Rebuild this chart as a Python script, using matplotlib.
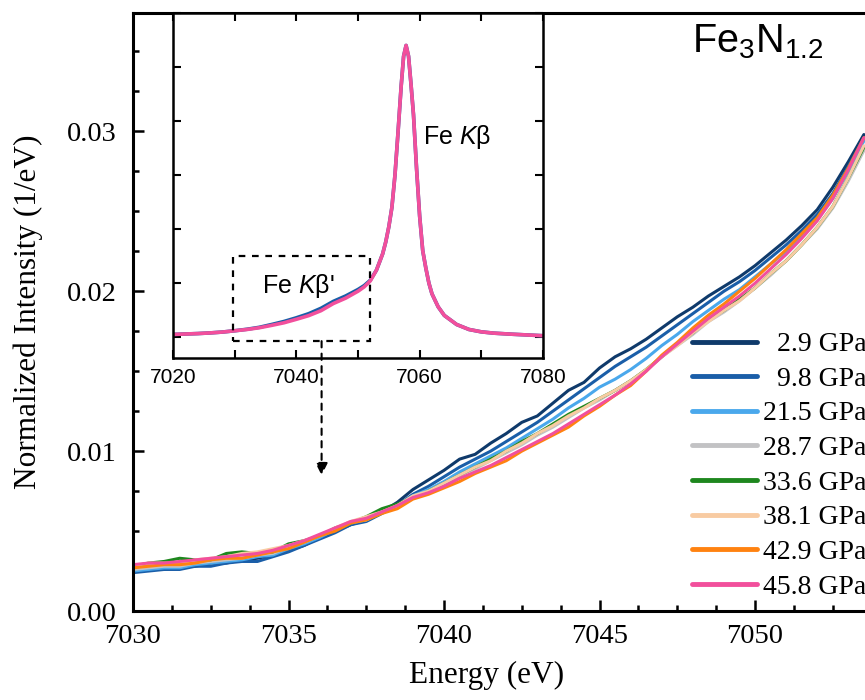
import matplotlib
matplotlib.use('Agg')
import matplotlib.pyplot as plt
from matplotlib.patches import Rectangle
from matplotlib.ticker import MultipleLocator

plt.rcParams['font.family'] = ['Liberation Serif', 'DejaVu Serif']
plt.rcParams['mathtext.fontset'] = 'custom'
plt.rcParams['mathtext.rm'] = 'Liberation Sans'
plt.rcParams['mathtext.it'] = 'Liberation Sans:italic'

# main panel: Fe K-beta' region, normalized intensity (1/eV)
energy = [7030.0, 7030.5, 7031.0, 7031.5, 7032.0, 7032.5, 7033.0, 7033.5, 7034.0, 7034.5,
          7035.0, 7035.5, 7036.0, 7036.5, 7037.0, 7037.5, 7038.0, 7038.5, 7039.0, 7039.5,
          7040.0, 7040.5, 7041.0, 7041.5, 7042.0, 7042.5, 7043.0, 7043.5, 7044.0, 7044.5,
          7045.0, 7045.5, 7046.0, 7046.5, 7047.0, 7047.5, 7048.0, 7048.5, 7049.0, 7049.5,
          7050.0, 7050.5, 7051.0, 7051.5, 7052.0, 7052.5, 7053.0, 7053.5]

p_2_9 = [0.0025, 0.0026, 0.0026, 0.0028, 0.0028, 0.0030, 0.0030, 0.0032, 0.0033, 0.0035,
         0.0038, 0.0041, 0.0046, 0.0050, 0.0054, 0.0057, 0.0062, 0.0068, 0.0076, 0.0082,
         0.0088, 0.0095, 0.0098, 0.0105, 0.0111, 0.0118, 0.0122, 0.0130, 0.0138, 0.0143,
         0.0152, 0.0159, 0.0164, 0.0170, 0.0177, 0.0184, 0.0190, 0.0197, 0.0203, 0.0209,
         0.0216, 0.0224, 0.0232, 0.0241, 0.0251, 0.0265, 0.0281, 0.0298]
p_9_8 = [0.0024, 0.0025, 0.0026, 0.0026, 0.0028, 0.0028, 0.0030, 0.0031, 0.0031, 0.0034,
         0.0037, 0.0041, 0.0045, 0.0049, 0.0054, 0.0056, 0.0061, 0.0066, 0.0073, 0.0078,
         0.0084, 0.0090, 0.0095, 0.0100, 0.0106, 0.0112, 0.0118, 0.0125, 0.0132, 0.0139,
         0.0146, 0.0153, 0.0159, 0.0165, 0.0172, 0.0179, 0.0186, 0.0193, 0.0200, 0.0206,
         0.0213, 0.0221, 0.0229, 0.0238, 0.0248, 0.0261, 0.0278, 0.0296]
p_21_5 = [0.0025, 0.0026, 0.0027, 0.0027, 0.0029, 0.0030, 0.0031, 0.0032, 0.0034, 0.0035,
          0.0039, 0.0042, 0.0046, 0.0051, 0.0055, 0.0057, 0.0062, 0.0066, 0.0072, 0.0076,
          0.0081, 0.0087, 0.0092, 0.0097, 0.0102, 0.0108, 0.0114, 0.0120, 0.0127, 0.0133,
          0.0140, 0.0145, 0.0151, 0.0158, 0.0166, 0.0173, 0.0181, 0.0188, 0.0195, 0.0201,
          0.0209, 0.0217, 0.0225, 0.0235, 0.0245, 0.0258, 0.0275, 0.0294]
p_28_7 = [0.0026, 0.0027, 0.0028, 0.0028, 0.0030, 0.0031, 0.0032, 0.0033, 0.0035, 0.0036,
          0.0040, 0.0043, 0.0047, 0.0051, 0.0056, 0.0057, 0.0062, 0.0066, 0.0071, 0.0075,
          0.0079, 0.0085, 0.0089, 0.0094, 0.0099, 0.0104, 0.0110, 0.0115, 0.0121, 0.0127,
          0.0132, 0.0138, 0.0144, 0.0151, 0.0159, 0.0166, 0.0173, 0.0181, 0.0187, 0.0194,
          0.0202, 0.0210, 0.0219, 0.0229, 0.0239, 0.0252, 0.0269, 0.0288]
p_33_6 = [0.0028, 0.0030, 0.0031, 0.0033, 0.0032, 0.0032, 0.0036, 0.0037, 0.0036, 0.0037,
          0.0042, 0.0044, 0.0047, 0.0052, 0.0055, 0.0059, 0.0064, 0.0067, 0.0071, 0.0075,
          0.0080, 0.0085, 0.0090, 0.0095, 0.0100, 0.0106, 0.0111, 0.0117, 0.0123, 0.0128,
          0.0133, 0.0138, 0.0144, 0.0151, 0.0159, 0.0167, 0.0174, 0.0182, 0.0188, 0.0195,
          0.0202, 0.0211, 0.0219, 0.0229, 0.0240, 0.0253, 0.0271, 0.0290]
p_38_1 = [0.0028, 0.0030, 0.0030, 0.0030, 0.0032, 0.0033, 0.0034, 0.0036, 0.0037, 0.0039,
          0.0041, 0.0044, 0.0047, 0.0052, 0.0056, 0.0059, 0.0062, 0.0066, 0.0072, 0.0075,
          0.0080, 0.0085, 0.0090, 0.0094, 0.0100, 0.0105, 0.0111, 0.0116, 0.0122, 0.0127,
          0.0133, 0.0138, 0.0144, 0.0151, 0.0159, 0.0166, 0.0174, 0.0181, 0.0188, 0.0194,
          0.0202, 0.0211, 0.0219, 0.0229, 0.0240, 0.0253, 0.0271, 0.0291]
p_42_9 = [0.0027, 0.0028, 0.0029, 0.0029, 0.0030, 0.0032, 0.0033, 0.0033, 0.0035, 0.0037,
          0.0039, 0.0043, 0.0047, 0.0050, 0.0055, 0.0057, 0.0061, 0.0064, 0.0070, 0.0073,
          0.0077, 0.0081, 0.0086, 0.0090, 0.0094, 0.0100, 0.0105, 0.0110, 0.0115, 0.0122,
          0.0128, 0.0135, 0.0141, 0.0150, 0.0160, 0.0168, 0.0177, 0.0185, 0.0192, 0.0200,
          0.0208, 0.0217, 0.0226, 0.0236, 0.0246, 0.0260, 0.0277, 0.0296]
p_45_8 = [0.0029, 0.0030, 0.0030, 0.0031, 0.0032, 0.0033, 0.0034, 0.0035, 0.0036, 0.0038,
          0.0041, 0.0044, 0.0048, 0.0052, 0.0056, 0.0058, 0.0062, 0.0066, 0.0071, 0.0074,
          0.0078, 0.0083, 0.0087, 0.0091, 0.0096, 0.0101, 0.0106, 0.0111, 0.0117, 0.0123,
          0.0129, 0.0135, 0.0142, 0.0150, 0.0159, 0.0167, 0.0175, 0.0183, 0.0190, 0.0197,
          0.0205, 0.0214, 0.0223, 0.0233, 0.0244, 0.0258, 0.0276, 0.0296]

series = [p_2_9, p_9_8, p_21_5, p_28_7, p_33_6, p_38_1, p_42_9, p_45_8]
labels = ['  2.9 GPa', '  9.8 GPa', '21.5 GPa', '28.7 GPa',
          '33.6 GPa', '38.1 GPa', '42.9 GPa', '45.8 GPa']
colors = ['#0f3a6b', '#1a5ea8', '#4aa8ec', '#c2c2c4',
          '#1e871e', '#f8cba2', '#ff8210', '#f24f9c']

# inset: full Fe K-beta line
inset_energy = [7020, 7022, 7024, 7026, 7028, 7030, 7032, 7034, 7036, 7038,
                7040, 7042, 7044, 7046, 7048, 7050, 7051, 7052, 7053, 7054,
                7054.5, 7055, 7055.5, 7056, 7056.5, 7057, 7057.4, 7057.8, 7058.2, 7058.6,
                7059, 7059.5, 7060, 7060.5, 7061, 7061.5, 7062, 7063, 7064, 7066,
                7068, 7070, 7072, 7075, 7080]
inset_high = [0.0012, 0.0014, 0.0016, 0.0019, 0.0023, 0.0029, 0.0035, 0.0043, 0.0054, 0.0066,
              0.0082, 0.0099, 0.0122, 0.0155, 0.0180, 0.0212, 0.0232, 0.0260, 0.0310, 0.0385,
              0.0440, 0.0510, 0.0600, 0.0750, 0.0950, 0.1160, 0.1300, 0.1350, 0.1300, 0.1170,
              0.1030, 0.0780, 0.0560, 0.0400, 0.0320, 0.0250, 0.0200, 0.0140, 0.0100, 0.0058,
              0.0035, 0.0024, 0.0018, 0.0013, 0.0006]
inset_low = [0.0012, 0.0014, 0.0016, 0.0019, 0.0023, 0.0029, 0.0036, 0.0045, 0.0058, 0.0072,
             0.0089, 0.0108, 0.0133, 0.0165, 0.0190, 0.0220, 0.0238, 0.0263, 0.0310, 0.0385,
             0.0440, 0.0510, 0.0600, 0.0750, 0.0950, 0.1160, 0.1300, 0.1350, 0.1300, 0.1170,
             0.1030, 0.0780, 0.0560, 0.0400, 0.0320, 0.0250, 0.0200, 0.0140, 0.0100, 0.0058,
             0.0035, 0.0024, 0.0018, 0.0013, 0.0006]

fig = plt.figure(figsize=(8.65, 7.0), dpi=100)
ax = fig.add_axes([0.1538, 0.1271, 0.8485, 0.8543])

for y, lab, c in zip(series, labels, colors):
    ax.plot(energy, y, color=c, lw=2.2, label=lab, solid_capstyle='round')

ax.set_xlim(7030, 7053.6)
ax.set_ylim(0, 0.0374)
ax.xaxis.set_major_locator(MultipleLocator(5))
ax.xaxis.set_minor_locator(MultipleLocator(1.25))
ax.yaxis.set_major_locator(MultipleLocator(0.01))
ax.yaxis.set_minor_locator(MultipleLocator(0.0025))
ax.yaxis.set_major_formatter(plt.FormatStrFormatter('%.2f'))
ax.tick_params(which='both', direction='in', top=False, right=False, width=1.8,
               labelsize=20.5)
ax.tick_params(which='major', length=8, pad=9)
ax.tick_params(axis='y', which='major', pad=12)
ax.tick_params(which='minor', length=4.5)
for s in ax.spines.values():
    s.set_linewidth(2.2)
ax.set_xlabel('Energy (eV)', fontsize=22.5)
ax.xaxis.set_label_coords(0.482, -0.083)
ax.set_ylabel('Normalized Intensity (1/eV)', fontsize=22.5)
ax.yaxis.set_label_coords(-0.123, 0.5)

# legend runs off the right edge, as in the original figure
leg = fig.legend(loc='upper left', bbox_to_anchor=(0.8, 0.526), frameon=False,
                 fontsize=20, handlelength=2.35, handletextpad=0.22,
                 labelspacing=0.33, borderpad=0, borderaxespad=0)
for line in leg.get_lines():
    line.set_linewidth(3.5)

fig.text(0.80, 0.925, 'Fe$_3$N$_{1.2}$', fontsize=28.5, family='Liberation Sans',
         va='baseline', ha='left')

# inset
ax_in = fig.add_axes([0.2, 0.4886, 0.4277, 0.4928])
ax_in.plot(inset_energy, inset_low, color='#1a5ea8', lw=2.6)
ax_in.plot(inset_energy, inset_high, color='#f24f9c', lw=2.6)
ax_in.set_xlim(7020, 7080)
ax_in.set_ylim(-0.0097, 0.15)
ax_in.xaxis.set_major_locator(MultipleLocator(20))
ax_in.xaxis.set_minor_locator(MultipleLocator(10))
ax_in.yaxis.set_major_locator(MultipleLocator(0.025))
ax_in.tick_params(which='both', direction='in', top=True, right=True, width=1.5,
                  labelleft=False, labelsize=15, labelfontfamily='Liberation Sans')
ax_in.tick_params(which='major', length=6, pad=7)
ax_in.tick_params(which='minor', length=6)
for s in ax_in.spines.values():
    s.set_linewidth(1.8)

ax_in.text(7060.5, 0.0894, 'Fe $K$\u03b2', fontsize=18, family='Liberation Sans',
           va='baseline')
ax_in.text(7034.4, 0.0204, "Fe $K$\u03b2'", fontsize=18, family='Liberation Sans',
           va='baseline')
ax_in.add_patch(Rectangle((7029.7, -0.0019), 22.2, 0.0394, fill=False, ls=(0, (3, 3)),
                          lw=1.6, color='k', zorder=5))
ax_in.annotate('', xy=(7044.1, -0.064), xytext=(7044.1, -0.0019), annotation_clip=False,
               arrowprops=dict(arrowstyle='-|>', ls=(0, (3, 3)), lw=1.5, color='k',
                               mutation_scale=18, shrinkA=0, shrinkB=0))

fig.savefig('out.png', dpi=100, facecolor='white')
